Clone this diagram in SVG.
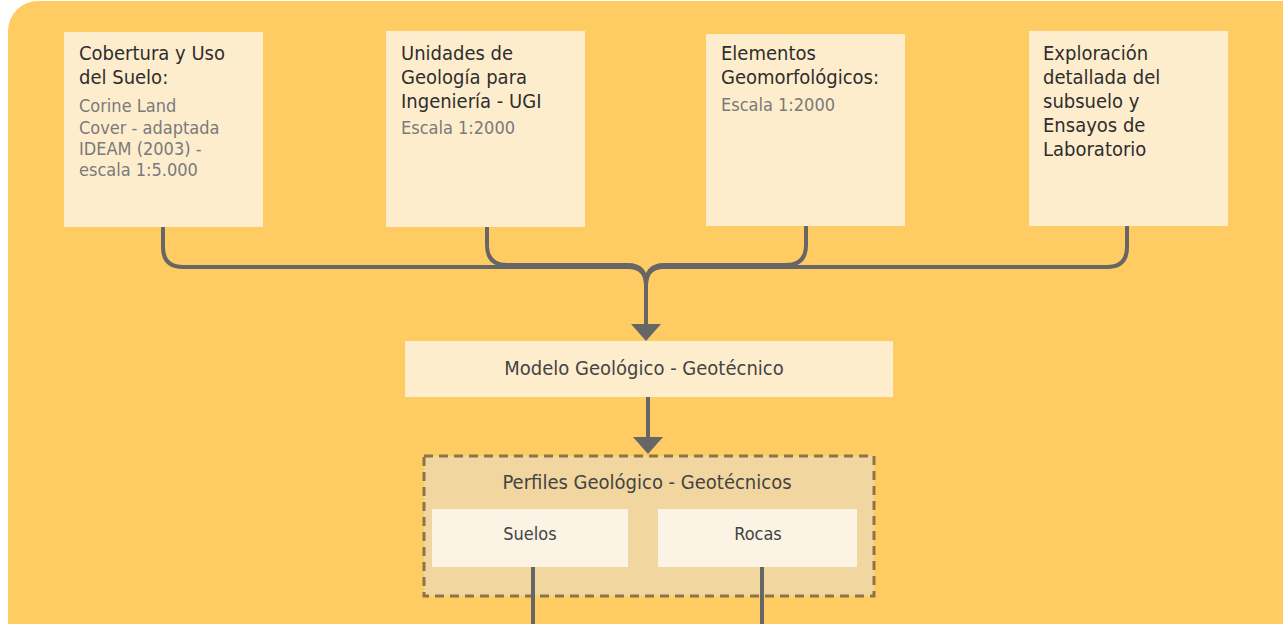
<svg xmlns="http://www.w3.org/2000/svg" width="1283" height="624" viewBox="0 0 1283 624">
<defs>
<style>
.t{font-family:"Liberation Sans Narrow","DejaVu Sans Condensed","Open Sans",sans-serif;fill:#2e2e2e;font-size:20px}
.g{fill:#7a7a7a;font-size:18px}
.box{fill:#FEEDCD}
.c{fill:none;stroke:#666;stroke-width:4;stroke-linecap:butt}
.m{text-anchor:middle}
</style>
<marker id="ah" markerWidth="8" markerHeight="8" refX="4" refY="4" orient="auto" markerUnits="userSpaceOnUse" viewBox="0 0 8 8"><path d="M0,0L8,4L0,8z" fill="#666"/></marker>
</defs>
<rect x="0" y="0" width="1283" height="624" fill="#fff"/>
<rect x="8" y="1" width="1310" height="680" rx="30" fill="#FECC62"/>
<g id="connectors">
<path class="c" d="M163,227 V247 Q163,267 183,267 H628 Q646,267 646,285 V326"/>
<path class="c" d="M487,227 V245 Q487,265 507,265 H628 Q646,265 646,285"/>
<path class="c" d="M806,226 V245 Q806,265 786,265 H664 Q646,265 646,285"/>
<path class="c" d="M1127,226 V247 Q1127,267 1107,267 H664 Q646,267 646,285"/>
<path d="M631,324 L661,324 L646,341 Z" fill="#666"/>
<path class="c" d="M648,397 V438"/>
<path d="M633,437 L663,437 L648,454 Z" fill="#666"/>
</g>
<g id="n1">
<rect class="box" x="64" y="32" width="199" height="195"/>
<text class="t" x="79" y="60">Cobertura y Uso</text>
<text class="t" x="79" y="84">del Suelo:</text>
<text class="t g" x="79" y="112">Corine Land</text>
<text class="t g" x="79" y="134">Cover - adaptada</text>
<text class="t g" x="79" y="155">IDEAM (2003) -</text>
<text class="t g" x="79" y="176">escala 1:5.000</text>
</g>
<g id="n2">
<rect class="box" x="386" y="31" width="199" height="196"/>
<text class="t" x="401" y="60">Unidades de</text>
<text class="t" x="401" y="84">Geología para</text>
<text class="t" x="401" y="108">Ingeniería - UGI</text>
<text class="t g" x="401" y="134">Escala 1:2000</text>
</g>
<g id="n3">
<rect class="box" x="706" y="34" width="199" height="192"/>
<text class="t" x="721" y="60">Elementos</text>
<text class="t" x="721" y="84">Geomorfológicos:</text>
<text class="t g" x="721" y="111">Escala 1:2000</text>
</g>
<g id="n4">
<rect class="box" x="1029" y="31" width="199" height="195"/>
<text class="t" x="1043" y="60">Exploración</text>
<text class="t" x="1043" y="84">detallada del</text>
<text class="t" x="1043" y="108">subsuelo y</text>
<text class="t" x="1043" y="132">Ensayos de</text>
<text class="t" x="1043" y="156">Laboratorio</text>
</g>
<g id="modelo">
<rect class="box" x="405" y="341" width="488" height="56"/>
<text class="t m" x="644" y="375" style="fill:#444">Modelo Geológico - Geotécnico</text>
</g>
<g id="perfiles">
<rect x="424" y="456" width="450" height="140" fill="#F2D6A0" stroke="#8E7444" stroke-width="3" stroke-dasharray="9,6"/>
<text class="t m" x="647" y="489" style="fill:#444">Perfiles Geológico - Geotécnicos</text>
</g>
<g id="suelos">
<rect x="432" y="509" width="196" height="58" fill="#FBF3E3"/>
<text class="t m" x="530" y="540" style="fill:#444;font-size:18px">Suelos</text>
</g>
<g id="rocas">
<rect x="658" y="509" width="199" height="58" fill="#FBF3E3"/>
<text class="t m" x="758" y="540" style="fill:#444;font-size:18px">Rocas</text>
</g>
<g id="bottom-connectors">
<path class="c" d="M533,567 V624"/>
<path class="c" d="M762,567 V624"/>
</g>
</svg>
